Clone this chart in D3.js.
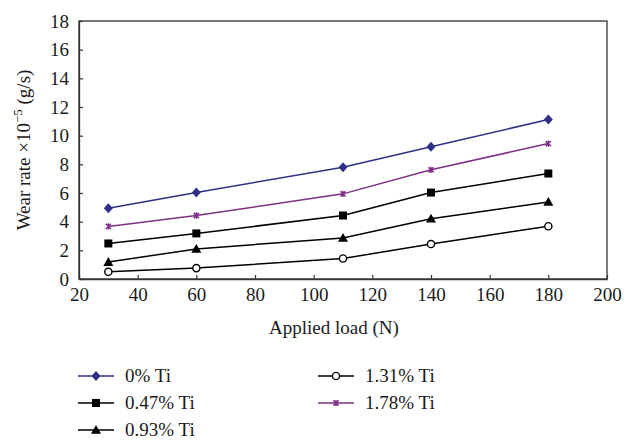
<!DOCTYPE html>
<html><head><meta charset="utf-8">
<script src="https://cdn.jsdelivr.net/npm/d3@7"></script>
<style>body{margin:0;background:#fff;} svg{display:block;}</style>
</head><body>
<svg id="c" width="634" height="441"></svg>
<script>
const loads = [30, 60, 110, 140, 180];
const ti0 = [4.93, 6.03, 7.8, 9.22, 11.13];
const ti047 = [2.48, 3.18, 4.43, 6.03, 7.36];
const ti093 = [1.18, 2.1, 2.86, 4.2, 5.37];
const ti131 = [0.5, 0.76, 1.43, 2.44, 3.68];
const ti178 = [3.67, 4.43, 5.94, 7.62, 9.45];
const seriesNames = ["0% Ti", "0.47% Ti", "0.93% Ti", "1.31% Ti", "1.78% Ti"];
const xTicks = [20, 40, 60, 80, 100, 120, 140, 160, 180, 200];
const yTicks = [0, 2, 4, 6, 8, 10, 12, 14, 16, 18];

const series = [
  {name: seriesNames[0], values: ti0, color: "#2e3087", marker: "diamond"},
  {name: seriesNames[1], values: ti047, color: "#000000", marker: "square"},
  {name: seriesNames[2], values: ti093, color: "#000000", marker: "triangle"},
  {name: seriesNames[3], values: ti131, color: "#000000", marker: "circle"},
  {name: seriesNames[4], values: ti178, color: "#7e2f86", marker: "star"}
];

const svg = d3.select("#c");
const L = 79, R = 607, T = 21, B = 279;
const x = d3.scaleLinear().domain([20, 200]).range([L, R]);
const y = d3.scaleLinear().domain([0, 18]).range([B, T]);
const FF = '"Liberation Serif", "Times New Roman", serif';
const fs = "19px";
function txt(sel) { return sel.style("font-family", FF).style("font-size", fs).attr("fill", "#1a1a1a"); }

svg.append("rect").attr("x", L).attr("y", T).attr("width", R - L).attr("height", B - T)
  .attr("fill", "none").attr("stroke", "#333").attr("stroke-width", 1.3);

const xAxis = svg.append("g").attr("transform", `translate(0,${B})`)
  .call(d3.axisBottom(x).tickValues(xTicks).tickSizeInner(-4).tickSizeOuter(0).tickPadding(9));
const yAxis = svg.append("g").attr("transform", `translate(${L},0)`)
  .call(d3.axisLeft(y).tickValues(yTicks).tickSizeInner(-4).tickSizeOuter(0).tickPadding(10));
[xAxis, yAxis].forEach(a => {
  a.attr("font-family", null).attr("font-size", null);
  a.select(".domain").attr("stroke", "#333").attr("stroke-width", 1.3);
  a.selectAll(".tick line").attr("stroke", "#333").attr("stroke-width", 1.2);
  txt(a.selectAll("text"));
});

txt(svg.append("text").attr("x", (L + R) / 2 - 9).attr("y", 334).attr("text-anchor", "middle"))
  .text("Applied load (N)");
const yl = txt(svg.append("text").attr("transform", `translate(30,${(T + B) / 2}) rotate(-90)`)
  .attr("text-anchor", "middle"));
yl.append("tspan").text("Wear rate ×10");
yl.append("tspan").attr("dy", -8).style("font-size", "13px").text("−5");
yl.append("tspan").attr("dy", 8).text(" (g/s)");

function drawMarker(g, type, cx, cy, color) {
  if (type === "diamond") {
    g.append("path").attr("d", `M${cx},${cy - 5}L${cx + 4.5},${cy}L${cx},${cy + 5}L${cx - 4.5},${cy}Z`).attr("fill", color);
  } else if (type === "square") {
    g.append("rect").attr("x", cx - 4).attr("y", cy - 4).attr("width", 8).attr("height", 8).attr("fill", color);
  } else if (type === "triangle") {
    g.append("path").attr("d", `M${cx},${cy - 5}L${cx + 5},${cy + 3.8}L${cx - 5},${cy + 3.8}Z`).attr("fill", color);
  } else if (type === "circle") {
    g.append("circle").attr("cx", cx).attr("cy", cy).attr("r", 3.6).attr("fill", "#fff").attr("stroke", color).attr("stroke-width", 1.4);
  } else if (type === "star") {
    const r = 2.6;
    g.append("path").attr("d", `M${cx - r},${cy - r}L${cx + r},${cy + r}M${cx - r},${cy + r}L${cx + r},${cy - r}M${cx},${cy - r - 0.5}L${cx},${cy + r + 0.5}`)
      .attr("stroke", color).attr("stroke-width", 1.5).attr("fill", "none");
  }
}

const line = d3.line().x((d, i) => x(loads[i])).y(d => y(d));
series.forEach(s => {
  svg.append("path").datum(s.values).attr("d", line).attr("fill", "none")
    .attr("stroke", s.color).attr("stroke-width", 1.5);
  const g = svg.append("g");
  s.values.forEach((v, i) => drawMarker(g, s.marker, x(loads[i]), y(v), s.color));
});

const legPos = [
  {x: 78, y: 376}, {x: 78, y: 403}, {x: 78, y: 430},
  {x: 318, y: 376}, {x: 318, y: 403}
];
series.forEach((s, i) => {
  const p = legPos[i];
  const g = svg.append("g");
  g.append("line").attr("x1", p.x).attr("x2", p.x + 36).attr("y1", p.y).attr("y2", p.y)
    .attr("stroke", s.color).attr("stroke-width", 1.5);
  drawMarker(g, s.marker, p.x + 18, p.y, s.color);
  txt(g.append("text").attr("x", p.x + 47).attr("y", p.y + 6)).text(s.name);
});
</script>
</body></html>
